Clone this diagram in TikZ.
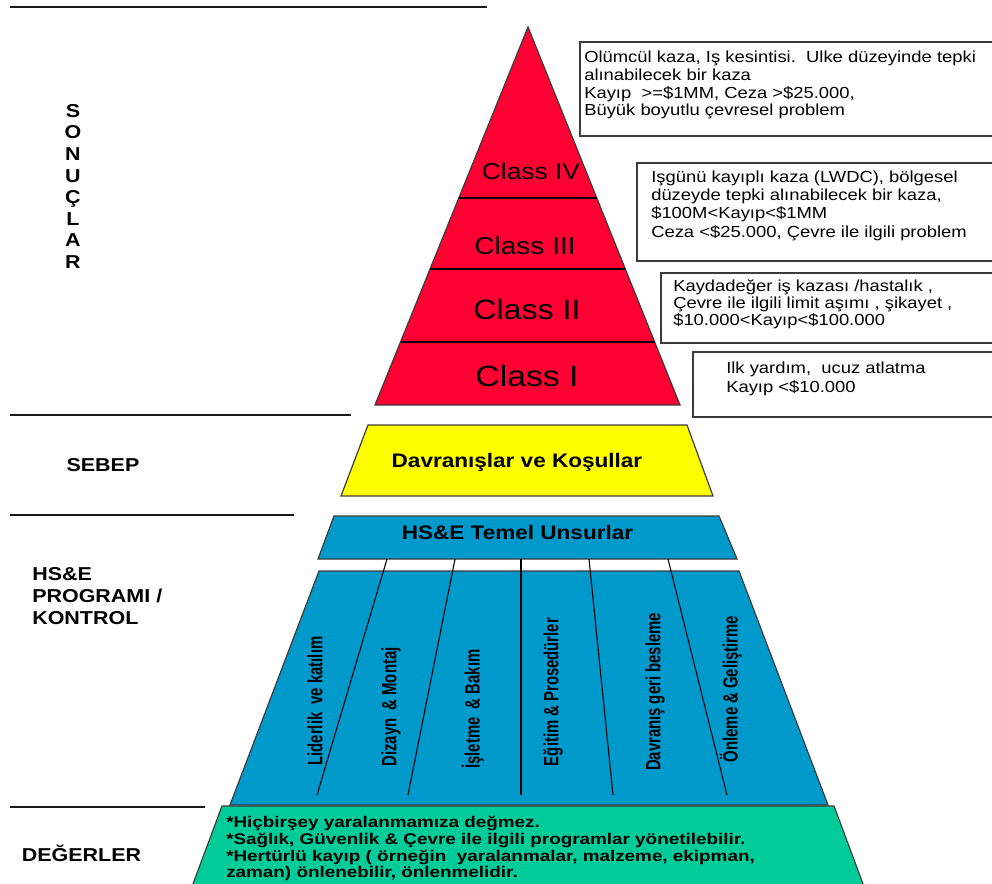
\documentclass[tikz,border=0pt]{standalone}
\usepackage{fontspec}
\usetikzlibrary{calc}
\setmainfont{Liberation Sans}
% widened, greened and narrowed cuts of the same sans face
\newfontfamily\widesans[FakeStretch=1.15]{Liberation Sans}
\newfontfamily\valuesans[FakeStretch=1.22]{Liberation Sans}
\newfontfamily\narrowsans[FakeStretch=0.72]{Liberation Sans}

\definecolor{pyrred}{RGB}{255,0,51}
\definecolor{pyryellow}{RGB}{255,255,0}
\definecolor{pyrblue}{RGB}{0,153,204}
\definecolor{pyrgreen}{RGB}{0,204,153}
\definecolor{edgegray}{RGB}{60,60,60}

\tikzset{
  rule/.style={line width=2.2pt, draw=black!90},
  tier/.style={draw=edgegray, line width=0.9pt, line join=miter},
  divider/.style={draw=black, line width=0.8pt},
  infobox/.style={draw=edgegray, line width=1.1pt, fill=white},
  infotext/.style={anchor=north west, inner sep=0pt, align=left,
    font=\widesans\fontsize{12}{13.2}\selectfont},
  classlabel/.style={anchor=base, inner sep=0pt},
  sidelabel/.style={inner sep=0pt, font=\widesans\bfseries\fontsize{14}{16.5}\selectfont},
  tierlabel/.style={anchor=base, inner sep=0pt, font=\widesans\bfseries\fontsize{14.7}{17}\selectfont},
  pillar/.style={rotate=90, inner sep=0pt, font=\narrowsans\bfseries\fontsize{15.5}{17}\selectfont}
}

\begin{document}
\begin{tikzpicture}[x=0.75pt,y=-0.75pt]
\useasboundingbox (0,0) rectangle (992,884);
\clip (0,0) rectangle (992,884);

% ---- section rules on the left ----
\draw[rule] (10,7) -- (487,7);
\draw[rule] (10,415) -- (351,415);
\draw[rule] (10,515) -- (294,515);
\draw[rule] (10,807) -- (205,807);

% ---- outcome boxes on the right ----
\draw[infobox] (580,42) rectangle (996,136);
\draw[infobox] (637,163) rectangle (996,261);
\draw[infobox] (661,273) rectangle (996,343);
\draw[infobox] (693,352) rectangle (996,417);

\node[infotext] (out4) at (584,50.4) {\strut Olümcül kaza, Iş kesintisi.\ \ Ulke düzeyinde tepki\\
  alınabilecek bir kaza\\
  Kayıp\ \ >=\$1MM, Ceza >\$25.000,\\
  Büyük boyutlu çevresel problem};
\node[infotext] (out3) at (651,170.4) {\strut Işgünü kayıplı kaza (LWDC), bölgesel\\
  düzeyde tepki alınabilecek bir kaza,\\
  \$100M<Kayıp<\$1MM\\[1.5pt]
  Ceza <\$25.000, Çevre ile ilgili problem};
\node[infotext, font=\widesans\fontsize{12}{12.8}\selectfont] (out2) at (673,279.6) {\strut Kaydadeğer iş kazası /hastalık ,\\
  Çevre ile ilgili limit aşımı , şikayet ,\\
  \$10.000<Kayıp<\$100.000};
\node[infotext, font=\widesans\fontsize{12}{14.2}\selectfont] (out1) at (726,359.8) {\strut Ilk yardım,\ \ ucuz atlatma\\
  Kayıp <\$10.000};

% ---- red pyramid of consequence classes ----
\coordinate (apex) at (528,27);
\coordinate (baseL) at (375,405);
\coordinate (baseR) at (680,405);
\draw[tier, fill=pyrred] (apex) -- (baseR) -- (baseL) -- cycle;
\foreach \t in {0.4524,0.6402,0.8333}
  \draw[divider] ($(apex)!\t!(baseL)$) -- ($(apex)!\t!(baseR)$);

\node[classlabel, font=\widesans\fontsize{17.2}{20}\selectfont] (c4) at (531,180) {Class IV};
\node[classlabel, font=\widesans\fontsize{18.3}{21}\selectfont] (c3) at (525,254.7) {Class III};
\node[classlabel, font=\widesans\fontsize{21}{24}\selectfont] (c2) at (527,320) {Class II};
\node[classlabel, font=\widesans\fontsize{22}{25}\selectfont] (c1) at (527,386.5) {Class I};

% ---- cause tier ----
\draw[tier, fill=pyryellow] (368,425) -- (687,425) -- (713,496) -- (341,496) -- cycle;
\node[tierlabel] (cause) at (517,467) {Davranışlar ve Koşullar};

% ---- HS&E programme tiers ----
\draw[tier, fill=pyrblue] (334,516) -- (719,516) -- (737,559) -- (318,559) -- cycle;
\node[tierlabel] (basics) at (517.5,539) {HS\&E Temel Unsurlar};

\draw[tier, fill=pyrblue] (319,571) -- (739,571) -- (828,805) -- (230,805) -- cycle;

\coordinate (d1t) at (387,559); \coordinate (d1b) at (317,795);
\coordinate (d2t) at (455,559); \coordinate (d2b) at (408,795);
\coordinate (d3t) at (521,559); \coordinate (d3b) at (521,795);
\coordinate (d4t) at (589,559); \coordinate (d4b) at (613,795);
\coordinate (d5t) at (668,559); \coordinate (d5b) at (727,795);
\foreach \k in {1,...,5}
  \draw[divider] (d\k t) -- (d\k b);

\node[pillar] (p1) at (315,701) {Liderlik\ \ ve katılım};
\node[pillar] (p2) at (391,707) {Dizayn\ \ \& Montaj};
\node[pillar] (p3) at (473,709) {İşletme\ \ \& Bakım};
\node[pillar] (p4) at (553,692) {Eğitim \& Prosedürler};
\node[pillar] (p5) at (655,692) {Davranış geri besleme};
\node[pillar] (p6) at (731,689) {Önleme \& Geliştirme};

% ---- values tier ----
\draw[tier, fill=pyrgreen] (222,806) -- (834,806) -- (869,900) -- (187,900) -- cycle;
\node[anchor=north west, inner sep=0pt, align=left,
      font=\valuesans\bfseries\fontsize{11.6}{12.5}\selectfont] (values) at (226,815.8)
  {\strut *Hiçbirşey yaralanmamıza değmez.\\
   *Sağlık, Güvenlik \& Çevre ile ilgili programlar yönetilebilir.\\
   *Hertürlü kayıp ( örneğin\ \ yaralanmalar, malzeme, ekipman,\\
   zaman) önlenebilir, önlenmelidir.};

% ---- section names ----
\node[anchor=north, inner sep=0pt, align=center,
      font=\widesans\bfseries\fontsize{14}{16.2}\selectfont] (sonuclar) at (73,101.9)
  {\strut S\\O\\N\\U\\Ç\\L\\A\\R};
\node[sidelabel] (sebep) at (103,465) {SEBEP};
\node[sidelabel, anchor=north west, align=left] (program) at (32,564.5)
  {\strut HS\&E\\PROGRAMI /\\KONTROL};
\node[sidelabel, anchor=base] (degerler) at (81.5,861) {DEĞERLER};
\end{tikzpicture}
\end{document}
